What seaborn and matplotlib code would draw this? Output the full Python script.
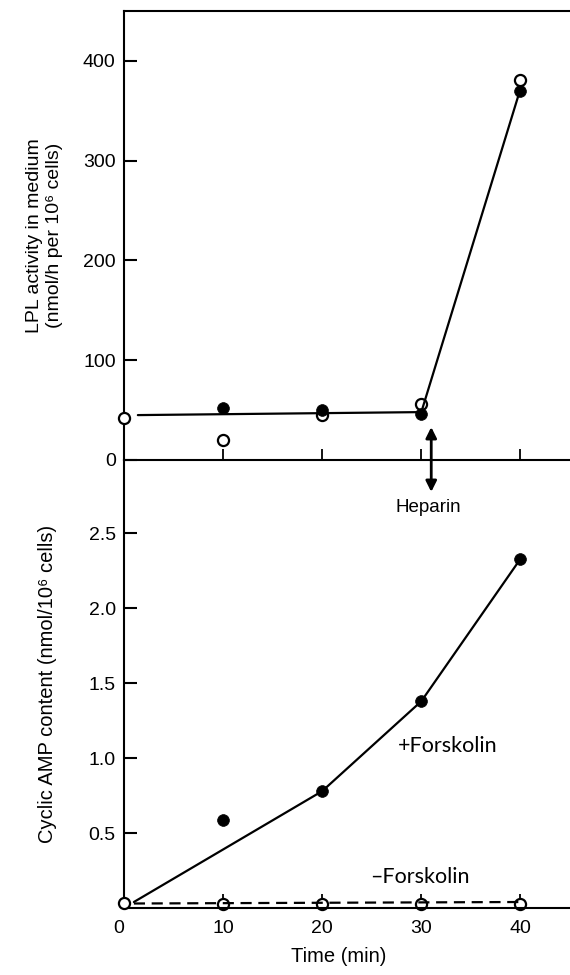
import matplotlib
matplotlib.use("Agg")
import matplotlib.pyplot as plt
import seaborn as sns
import pandas as pd

# ---------------- data ----------------
time_min = [0, 10, 20, 30, 40]

# Top panel: LPL activity in medium
lpl_filled_x = [10, 20, 30, 40]
lpl_filled_y = [52, 50, 46, 370]
lpl_open_x = [0, 10, 20, 30, 40]
lpl_open_y = [42, 20, 45, 56, 381]
lpl_line_x = [1.4, 30, 40]
lpl_line_y = [45, 48, 372]

# Bottom panel: cyclic AMP content
camp_plus_x = [10, 20, 30, 40]
camp_plus_y = [0.59, 0.78, 1.38, 2.33]
camp_plus_line_x = [1.0, 20, 30, 40]
camp_plus_line_y = [0.04, 0.78, 1.38, 2.33]
camp_minus_x = [0, 10, 20, 30, 40]
camp_minus_y = [0.033, 0.025, 0.025, 0.025, 0.03]
camp_minus_line_x = [1.0, 40]
camp_minus_line_y = [0.03, 0.04]

top_yticks = [0, 100, 200, 300, 400]
bot_yticks = [0.5, 1.0, 1.5, 2.0, 2.5]
bot_yticklabels = ["0.5", "1.0", "1.5", "2.0", "2.5"]
xticks = [0, 10, 20, 30, 40]
xticklabels = ["0", "10", "20", "30", "40"]

# ---------------- style ----------------
sns.set_style("ticks")
plt.rcParams["font.family"] = ["Liberation Sans", "DejaVu Sans"]
plt.rcParams["axes.linewidth"] = 1.5
for key in ["text.color", "axes.labelcolor", "xtick.color", "ytick.color",
            "axes.edgecolor", "xtick.labelcolor", "ytick.labelcolor"]:
    plt.rcParams[key] = "black"

fig = plt.figure(figsize=(5.70, 9.75), dpi=100)
ax2 = fig.add_axes([0.2175, 0.06872, 0.7825, 0.45949])
ax1 = fig.add_axes([0.2175, 0.52821, 0.7825, 0.46051])
ax1.set_zorder(ax2.get_zorder() + 1)
ax1.patch.set_visible(False)

LW = 1.6
BLACK = "black"
TICK_FS = 14

# ----- top panel -----
sns.lineplot(x=lpl_line_x, y=lpl_line_y, ax=ax1, color=BLACK, lw=LW,
             estimator=None, sort=False, zorder=2)
sns.scatterplot(x=lpl_filled_x, y=lpl_filled_y, ax=ax1, color=BLACK,
                s=72, edgecolor=BLACK, linewidth=0.5, zorder=3, clip_on=False)
df_open = pd.DataFrame({"x": lpl_open_x, "y": lpl_open_y})
sns.scatterplot(data=df_open[df_open.x > 0], x="x", y="y", ax=ax1, color="white",
                s=64, edgecolor=BLACK, linewidth=1.6, zorder=1.5, clip_on=False)
sns.scatterplot(data=df_open[df_open.x == 0], x="x", y="y", ax=ax1, color="white",
                s=64, edgecolor=BLACK, linewidth=1.6, zorder=4, clip_on=False)

ax1.set_xlim(0, 45)
ax1.set_ylim(0, 450)
ax1.set_yticks(top_yticks)
ax1.set_yticklabels([str(v) for v in top_yticks], fontsize=TICK_FS)
ax1.set_xticks(xticks[1:])
ax1.set_xticklabels([])
ax1.tick_params(axis="y", direction="in", length=9, width=1.5, pad=6)
ax1.tick_params(axis="x", direction="in", length=8, width=1.3)
ax1.spines["right"].set_visible(False)
for s in ["left", "top", "bottom"]:
    ax1.spines[s].set_linewidth(1.5)
ax1.set_xlabel("")
ax1.set_ylabel("LPL activity in medium\n(nmol/h per 10\u2076 cells)", fontsize=14,
               linespacing=1.2)
ax1.yaxis.set_label_coords(-0.137, 0.5)

# Heparin arrow
ax1.annotate("", xy=(31, 33), xytext=(31, -32),
             arrowprops=dict(arrowstyle="<|-|>", lw=2, color=BLACK,
                             mutation_scale=16, shrinkA=0, shrinkB=0),
             annotation_clip=False, zorder=5)
ax1.text(30.7, -48, "Heparin", ha="center", va="center", fontsize=13.5, clip_on=False)

# ----- bottom panel -----
sns.lineplot(x=camp_plus_line_x, y=camp_plus_line_y, ax=ax2, color=BLACK, lw=LW,
             estimator=None, sort=False, zorder=2)
ax2.plot(camp_minus_line_x, camp_minus_line_y, color=BLACK, lw=LW,
         dashes=(5, 3), zorder=2)
sns.scatterplot(x=camp_plus_x, y=camp_plus_y, ax=ax2, color=BLACK,
                s=72, edgecolor=BLACK, linewidth=0.5, zorder=3, clip_on=False)
df_min = pd.DataFrame({"x": camp_minus_x, "y": camp_minus_y})
sns.scatterplot(data=df_min[df_min.x > 0], x="x", y="y", ax=ax2, color="white",
                s=64, edgecolor=BLACK, linewidth=1.6, zorder=1.5, clip_on=False)
sns.scatterplot(data=df_min[df_min.x == 0], x="x", y="y", ax=ax2, color="white",
                s=64, edgecolor=BLACK, linewidth=1.6, zorder=4, clip_on=False)

ax2.set_xlim(0, 45)
ax2.set_ylim(0, 2.99)
ax2.set_yticks(bot_yticks)
ax2.set_yticklabels(bot_yticklabels, fontsize=TICK_FS)
ax2.set_xticks(xticks)
ax2.set_xticklabels(xticklabels, fontsize=TICK_FS)
ax2.get_xticklabels()[0].set_horizontalalignment("right")
ax2.tick_params(axis="y", direction="in", length=9, width=1.5, pad=6)
ax2.tick_params(axis="x", direction="in", length=10, width=1.3, pad=9)
for s in ["right", "top"]:
    ax2.spines[s].set_visible(False)
for s in ["left", "bottom"]:
    ax2.spines[s].set_linewidth(1.5)
ax2.set_xlabel("")
ax2.set_ylabel("Cyclic AMP content (nmol/10\u2076 cells)", fontsize=14.5)
ax2.yaxis.set_label_coords(-0.15, 0.5)

ax2.text(27.6, 1.08, "+Forskolin", ha="left", va="center", fontsize=15.5,
         family=["Lato", "DejaVu Sans"])
ax2.text(24.8, 0.21, "\u2013Forskolin", ha="left", va="center", fontsize=15.5,
         family=["Lato", "DejaVu Sans"])

fig.text(339 / 570, 1 - 957 / 975, "Time (min)", ha="center", va="center", fontsize=14.5)

fig.savefig("out.png", dpi=100)
